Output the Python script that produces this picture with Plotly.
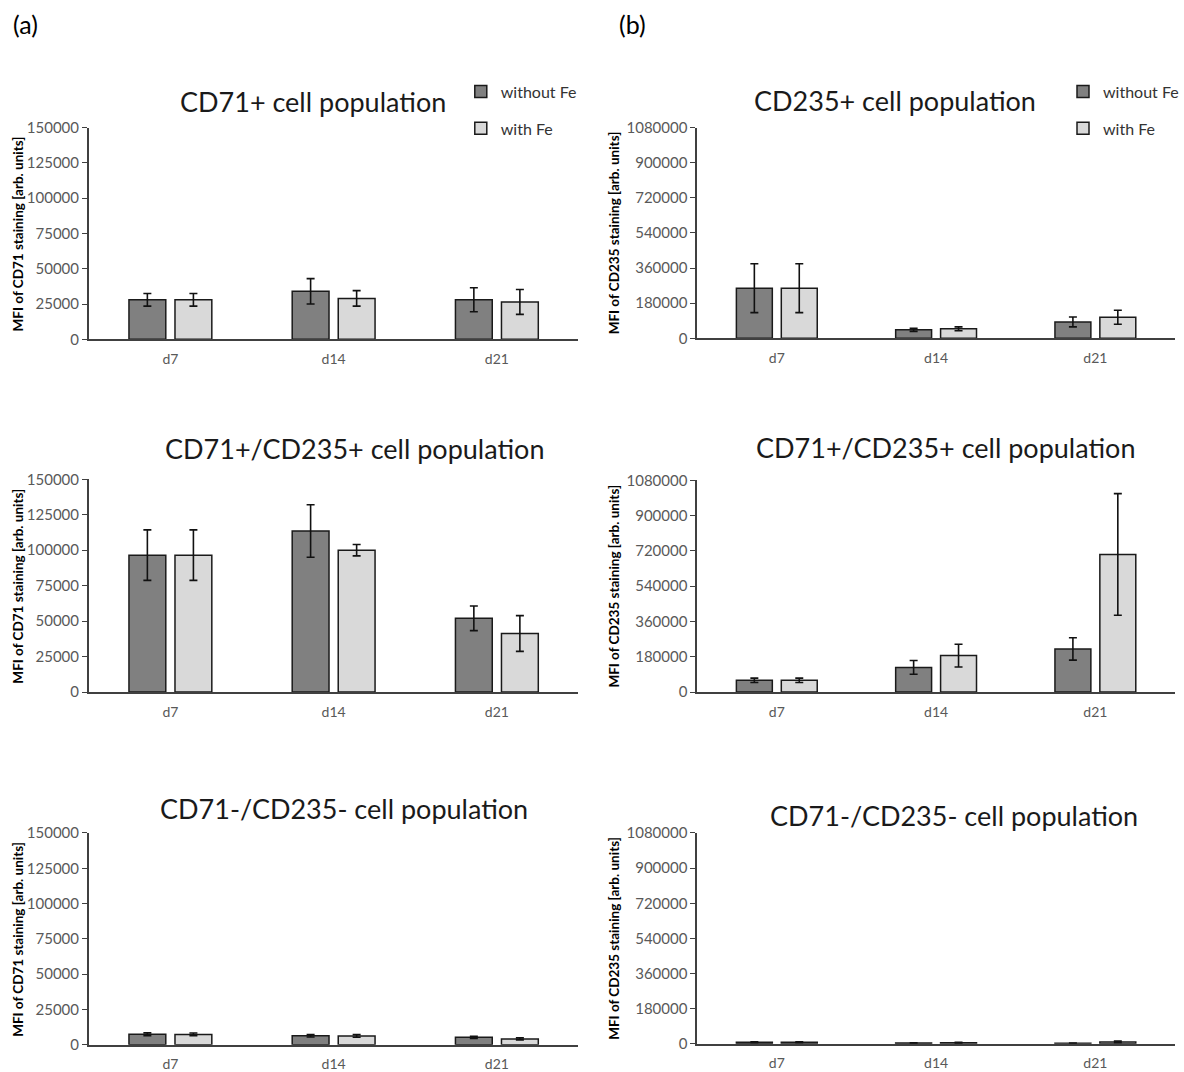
import plotly.graph_objects as go

W, H = 1184, 1072

# calibration (page pixels -> figure fractions), measured from test renders
def fx(px):
    return min(px / 0.995 / W, 1.0)


def fy(px):
    return 1 - ((px - 9.4) / 0.983) / H


days = ["d7", "d14", "d21"]
series_names = ["without Fe", "with Fe"]

# Panel (a) - MFI of CD71
a1_without = [28000, 34000, 28000]
a1_without_err = [4500, 9000, 8500]
a1_with = [28000, 29000, 26500]
a1_with_err = [4500, 5500, 8800]

a2_without = [96500, 113500, 52000]
a2_without_err = [17800, 18500, 8700]
a2_with = [96500, 100000, 41300]
a2_with_err = [17800, 4000, 12600]

a3_without = [7500, 6400, 5300]
a3_without_err = [1000, 900, 700]
a3_with = [7400, 6300, 4200]
a3_with_err = [1000, 900, 700]

# Panel (b) - MFI of CD235
b1_without = [257000, 44000, 84000]
b1_without_err = [125000, 8000, 25000]
b1_with = [257000, 49000, 108000]
b1_with_err = [125000, 10000, 36000]

b2_without = [60000, 126000, 220000]
b2_without_err = [11000, 35000, 57000]
b2_with = [60000, 186000, 702000]
b2_with_err = [11000, 58000, 310000]

b3_without = [8000, 4000, 3000]
b3_without_err = [2000, 1000, 1000]
b3_with = [8000, 5000, 10000]
b3_with_err = [2000, 3000, 4000]

titles = ["CD71+ cell population", "CD71+/CD235+ cell population", "CD71-/CD235- cell population",
          "CD235+ cell population", "CD71+/CD235+ cell population", "CD71-/CD235- cell population"]
ytitles = ["MFI of CD71 staining [arb. units]", "MFI of CD235 staining [arb. units]"]
a_ticks = [0, 25000, 50000, 75000, 100000, 125000, 150000]
b_ticks = [0, 180000, 360000, 540000, 720000, 900000, 1080000]

FONT = "Lato, 'Open Sans', sans-serif"
C_DARK = "#808080"
C_LIGHT = "#d9d9d9"

panels = [
    (a1_without, a1_without_err, a1_with, a1_with_err, (89, 580), (127, 339), a_ticks, titles[0], (314, 101), 0, "legend"),
    (a2_without, a2_without_err, a2_with, a2_with_err, (89, 580), (479, 692), a_ticks, titles[1], (355, 448), 0, None),
    (a3_without, a3_without_err, a3_with, a3_with_err, (89, 580), (833, 1045), a_ticks, titles[2], (345, 808), 0, None),
    (b1_without, b1_without_err, b1_with, b1_with_err, (699, 1181), (127, 338), b_ticks, titles[3], (897, 100), 1, "legend2"),
    (b2_without, b2_without_err, b2_with, b2_with_err, (699, 1181), (480, 692), b_ticks, titles[4], (948, 447), 1, None),
    (b3_without, b3_without_err, b3_with, b3_with_err, (699, 1181), (833, 1044), b_ticks, titles[5], (957, 815), 1, None),
]

fig = go.Figure()
annotations = []
layout_axes = {}

for i, (yw, ew, yf, ef, xpx, ypx, ticks, title, txy, yti, leg) in enumerate(panels):
    n = "" if i == 0 else str(i + 1)
    xa, ya = "x" + n, "y" + n
    for name, vals, errs, col in [(series_names[0], yw, ew, C_DARK), (series_names[1], yf, ef, C_LIGHT)]:
        fig.add_trace(go.Bar(
            x=days, y=vals, name=name, xaxis=xa, yaxis=ya,
            marker=dict(color=col, line=dict(color="#1a1a1a", width=1.5)),
            error_y=dict(type="data", array=errs, visible=True, color="#111111", thickness=1.6, width=4),
            showlegend=leg is not None,
            legend=leg if leg else "legend",
            legendgroup=name + str(i),
        ))
    layout_axes["xaxis" + n] = dict(
        domain=[fx(xpx[0]), fx(xpx[1])], anchor=ya, type="category",
        range=[-0.5, 2.5], showline=True, linecolor="#404040", linewidth=1.5,
        ticks="", showgrid=False, zeroline=False,
        tickfont=dict(family=FONT, size=14, color="#595959"),
        ticklabelstandoff=6,
    )
    layout_axes["yaxis" + n] = dict(
        domain=[fy(ypx[1]), fy(ypx[0])], anchor=xa,
        range=[0, ticks[-1]], tickvals=ticks, ticktext=[str(t) for t in ticks],
        showline=True, linecolor="#404040", linewidth=1.5,
        ticks="outside", ticklen=5, tickcolor="#404040", tickwidth=1.2,
        showgrid=False, zeroline=False,
        tickfont=dict(family=FONT, size=15, color="#595959"),
    )
    annotations.append(dict(
        text=title, x=fx(txy[0]), y=fy(txy[1]), xref="paper", yref="paper",
        xanchor="center", yanchor="middle", showarrow=False,
        font=dict(family=FONT, size=27, color="#1a1a1a"),
    ))
    annotations.append(dict(
        text="<b>" + ytitles[yti] + "</b>", textangle=-90,
        x=fx(18 if yti == 0 else 616), y=fy((ypx[0] + ypx[1]) / 2),
        xref="paper", yref="paper", xanchor="center", yanchor="middle", showarrow=False,
        font=dict(family=FONT, size=13.5, color="#000000"),
    ))

annotations.append(dict(text="(a)", x=fx(11), y=fy(23), xref="paper", yref="paper",
                        xanchor="left", yanchor="middle", showarrow=False,
                        font=dict(family=FONT, size=25, color="#000000")))
annotations.append(dict(text="(b)", x=fx(619), y=fy(23), xref="paper", yref="paper",
                        xanchor="left", yanchor="middle", showarrow=False,
                        font=dict(family=FONT, size=25, color="#000000")))

leg_common = dict(
    orientation="v", xanchor="left", yanchor="top",
    font=dict(family=FONT, size=16, color="#333333"),
    bgcolor="rgba(0,0,0,0)", tracegroupgap=13, traceorder="grouped",
    itemwidth=30,
)

fig.update_layout(
    width=W, height=H,
    margin=dict(l=0, r=0, t=0, b=0),
    paper_bgcolor="white", plot_bgcolor="white",
    barmode="group", bargap=0.436, bargroupgap=0.2,
    annotations=annotations,
    legend=dict(x=fx(462), y=fy(74), **leg_common),
    legend2=dict(x=fx(1066), y=fy(74), **leg_common),
    **layout_axes,
)

fig.write_html("out.html")
